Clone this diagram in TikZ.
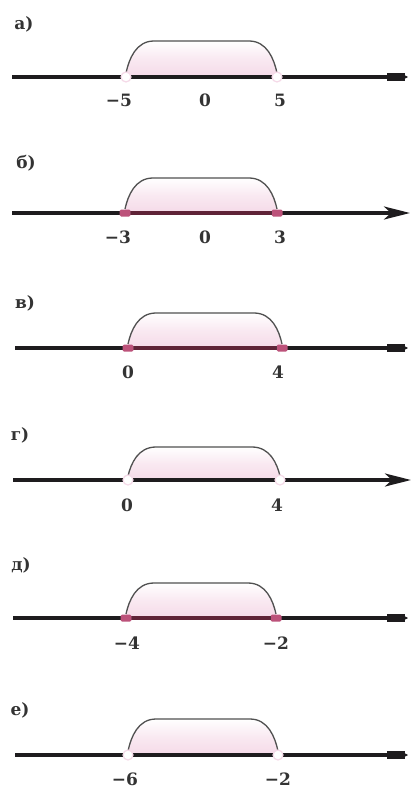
\documentclass[tikz,border=0pt]{standalone}
\usepackage{fontspec}
\setmainfont{DejaVu Serif}
\usetikzlibrary{arrows.meta}
\definecolor{pinkfill}{RGB}{245,218,232}
\definecolor{dotpink}{RGB}{188,82,122}
\definecolor{arcgray}{RGB}{80,80,80}
\definecolor{axisdark}{RGB}{30,28,30}
\definecolor{segmaroon}{RGB}{95,35,55}
\tikzset{
  axisline/.style={line width=3.2pt, draw=axisdark},
  segline/.style={line width=3.2pt, draw=segmaroon},
  arcline/.style={line width=1.3pt, draw=arcgray},
  plabel/.style={font=\fontsize{17}{20}\selectfont\bfseries, inner sep=0pt, text=black!80},
  num/.style={font=\fontsize{17}{20}\selectfont\bfseries, inner sep=0pt, text=black!80},
  closeddot/.style={rectangle, rounded corners=1.5pt, minimum width=11pt, minimum height=7pt, fill=dotpink, inner sep=0pt},
  opendot/.style={circle, minimum size=10pt, fill=white, draw=pinkfill, line width=1.2pt, inner sep=0pt},
  tipA/.style={-{Stealth[length=26pt,width=13pt,inset=7pt]}},
  tipB/.style={-{Rectangle[length=18pt,width=8pt] Triangle[length=3pt,width=3pt]}},
}
% #1 xL, #2 xR, #3 axis y, #4 top y
\newcommand\segarc[4]{%
  \shade[top color=white, bottom color=pinkfill, middle color=pinkfill!60]
    (#1,#3) .. controls (#1+3,{(#3+#4)/2}) and (#1+10,#4) .. (#1+28,#4)
    -- (#2-28,#4) .. controls (#2-10,#4) and (#2-3,{(#3+#4)/2}) .. (#2,#3) -- cycle;
  \draw[arcline]
    (#1,#3-4) .. controls (#1+3,{(#3+#4)/2}) and (#1+10,#4) .. (#1+28,#4)
    -- (#2-28,#4) .. controls (#2-10,#4) and (#2-3,{(#3+#4)/2}) .. (#2,#3-4);
}
\begin{document}
\begin{tikzpicture}[x=1pt,y=-1pt]
\useasboundingbox[fill=white] (0,0) rectangle (413,789);

% ---- a)
\node[plabel] (la) at (24,24) {а)};
\segarc{126}{277}{77}{41}
\coordinate (aS) at (12,77);
\coordinate (aE) at (408,77);
\draw[axisline,tipB] (aS) -- (aE);
\node[opendot] (aL) at (126,77) {};
\node[opendot] (aR) at (277,77) {};
\node[num] (aN1) at (119,100) {−5};
\node[num] (aN2) at (205,100) {0};
\node[num] (aN3) at (280,100) {5};

% ---- b)
\node[plabel] (lb) at (26,163) {б)};
\segarc{125}{277}{213}{178}
\coordinate (bS) at (12,213);
\coordinate (bE) at (410,213);
\draw[axisline,tipA] (bS) -- (bE);
\node[closeddot] (bL) at (125,213) {};
\node[closeddot] (bR) at (277,213) {};
\draw[segline] (bL.east) -- (bR.west);
\node[num] (bN1) at (118,237) {−3};
\node[num] (bN2) at (205,237) {0};
\node[num] (bN3) at (280,237) {3};

% ---- v)
\node[plabel] (lc) at (25,303) {в)};
\segarc{128}{282}{348}{313}
\coordinate (cS) at (15,348);
\coordinate (cE) at (408,348);
\draw[axisline,tipB] (cS) -- (cE);
\node[closeddot] (cL) at (128,348) {};
\node[closeddot] (cR) at (282,348) {};
\draw[segline] (cL.east) -- (cR.west);
\node[num] (cN1) at (128,372) {0};
\node[num] (cN2) at (278,372) {4};

% ---- g)
\node[plabel] (ld) at (20,435) {г)};
\segarc{128}{280}{480}{447}
\coordinate (dS) at (13,480);
\coordinate (dE) at (411,480);
\draw[axisline,tipA] (dS) -- (dE);
\node[opendot] (dL) at (128,480) {};
\node[opendot] (dR) at (280,480) {};
\node[num] (dN1) at (127,505) {0};
\node[num] (dN2) at (277,505) {4};

% ---- d)
\node[plabel] (le) at (21,565) {д)};
\segarc{126}{276}{618}{583}
\coordinate (eS) at (13,618);
\coordinate (eE) at (408,618);
\draw[axisline,tipB] (eS) -- (eE);
\node[closeddot] (eL) at (126,618) {};
\node[closeddot] (eR) at (276,618) {};
\draw[segline] (eL.east) -- (eR.west);
\node[num] (eN1) at (127,643) {−4};
\node[num] (eN2) at (276,643) {−2};

% ---- e)
\node[plabel] (lf) at (20,710) {е)};
\segarc{128}{278}{755}{719}
\coordinate (fS) at (15,755);
\coordinate (fE) at (408,755);
\draw[axisline,tipB] (fS) -- (fE);
\node[opendot] (fL) at (128,755) {};
\node[opendot] (fR) at (278,755) {};
\node[num] (fN1) at (125,779) {−6};
\node[num] (fN2) at (278,779) {−2};
\end{tikzpicture}
\end{document}
